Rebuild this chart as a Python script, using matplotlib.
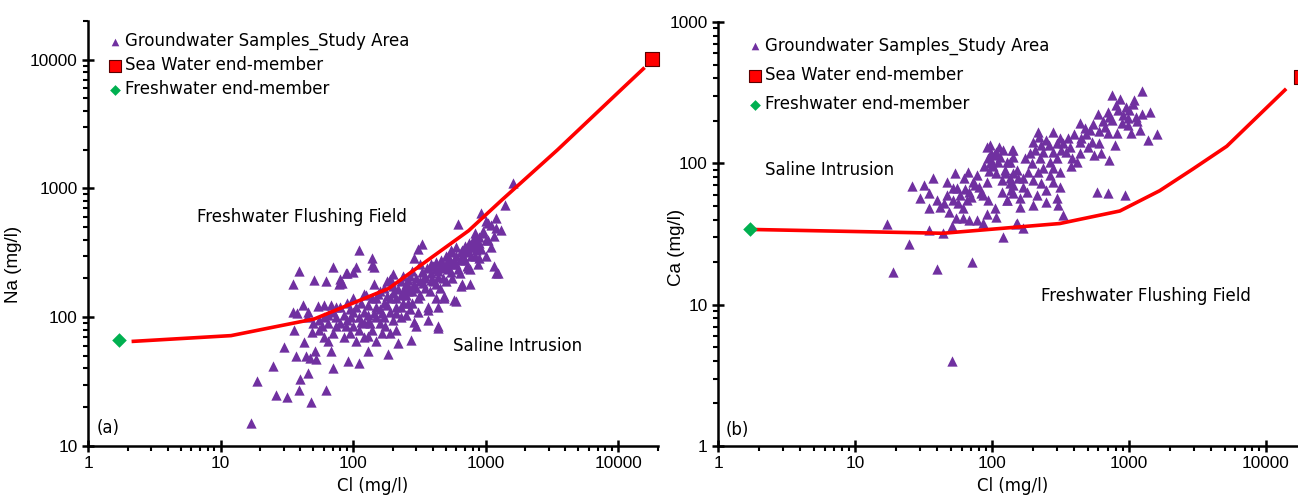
import matplotlib
matplotlib.use("Agg")
import matplotlib.pyplot as plt
from matplotlib.ticker import LogLocator, FixedLocator, FixedFormatter, NullFormatter

# ---- panel (a): Cl vs Na (mg/l) ----
samples_a = [
    (17, 15), (19, 32), (25, 42), (26, 25), (32, 24), (39, 27), (48, 22), (63, 27),
    (30, 59), (35, 110), (38, 108), (46, 110), (54, 122), (60, 125), (68, 125), (36, 80),
    (43, 64), (49, 77), (55, 80), (37, 50), (44, 50), (47, 48), (53, 47), (52, 55),
    (68, 55), (70, 40), (40, 33), (46, 37), (92, 46), (110, 44), (185, 52),
    (39, 230), (70, 245), (105, 245), (51, 195), (62, 190), (35, 180), (78, 180), (82, 185),
    (110, 330), (140, 290), (330, 370), (140, 255), (90, 220), (100, 225), (80, 198), (190, 198),
    (120, 152), (155, 152), (200, 155), (240, 160), (260, 175), (300, 200), (345, 200), (390, 220),
    (440, 230), (460, 250), (550, 225), (650, 175), (740, 240), (880, 260), (1150, 250), (1200, 220),
    (490, 140), (600, 133), (370, 113), (310, 110), (440, 82), (290, 92), (275, 66), (220, 63),
    (130, 55), (930, 650), (620, 530), (1200, 590), (1200, 490), (1150, 430), (1250, 220),
    (1050, 400), (900, 420), (810, 400), (930, 340), (830, 300), (740, 320), (660, 330),
    (600, 300), (550, 260), (720, 250), (760, 235), (620, 235), (520, 235), (460, 280),
    (310, 340), (290, 290), (390, 260), (420, 235), (440, 205), (390, 195), (330, 225),
    (340, 185), (420, 180), (660, 180), (760, 180), (490, 145), (580, 135), (440, 120),
    (370, 120), (310, 140), (290, 180), (260, 195), (240, 210), (195, 195), (145, 180),
    (145, 245), (88, 220), (80, 185), (260, 130), (230, 120), (210, 108), (165, 108),
    (145, 108), (130, 92), (115, 92), (97, 100), (88, 85), (300, 85), (370, 95), (440, 85),
    (165, 75), (130, 72), (1600, 1100), (1400, 740), (1300, 480), (1050, 540), (960, 470),
    (830, 450), (1000, 400), (850, 400),
    (55, 95), (60, 100), (65, 90), (70, 110), (75, 100), (80, 120), (85, 105), (90, 130),
    (95, 115), (100, 140), (105, 120), (110, 100), (115, 130), (120, 110), (125, 150),
    (130, 125), (135, 90), (140, 140), (150, 120), (160, 160), (170, 130), (180, 145),
    (190, 110), (200, 175), (210, 140), (220, 165), (230, 190), (250, 150), (270, 210),
    (280, 160), (60, 70), (65, 65), (75, 85), (85, 70), (95, 75), (100, 85), (105, 65),
    (110, 80), (120, 70), (140, 80), (150, 65), (160, 90), (175, 85), (190, 75), (200, 95),
    (210, 80), (230, 100), (250, 105), (270, 115), (280, 130), (320, 150), (350, 170),
    (380, 160), (400, 190), (420, 140), (450, 170), (480, 200), (500, 260), (520, 300),
    (550, 330), (580, 280), (600, 350), (640, 280), (680, 300), (700, 360), (750, 380),
    (780, 300), (800, 350), (850, 330), (900, 380), (950, 450), (1000, 560), (1100, 520),
    (1000, 300), (1100, 350), (900, 290), (500, 190), (560, 200), (640, 220),
    (150, 100), (160, 115), (170, 100), (180, 125), (190, 140), (210, 120), (230, 150),
    (240, 130), (260, 160), (300, 170), (320, 190), (350, 210), (360, 240), (400, 250),
    (420, 270), (480, 240), (500, 300), (530, 280), (560, 320), (600, 260), (650, 320),
    (700, 280), (720, 330), (780, 350), (820, 380), (870, 360), (120, 90), (130, 105),
    (100, 110), (90, 95), (80, 90), (70, 75), (75, 120), (65, 105), (58, 85), (50, 90),
    (45, 100), (42, 125), (150, 140), (170, 170), (250, 180), (280, 230), (320, 260),
    (200, 215), (180, 190),
]
mix_cl_a = [2.2, 12, 51, 185, 745, 1320, 3500, 11000, 15500]
mix_na_a = [65, 72, 97, 167, 470, 810, 2000, 6100, 8500]
sea_a = (18000, 10200)
fresh_a = (1.7, 66)

# ---- panel (b): Cl vs Ca (mg/l) ----
samples_b = [
    (17, 37), (25, 27), (19, 17), (40, 18), (71, 20), (35, 34), (44, 32), (120, 30),
    (152, 38), (26, 69), (32, 70), (37, 79), (30, 57), (35, 62), (40, 55), (35, 48),
    (42, 49), (47, 74), (54, 85), (52, 67), (56, 67), (47, 60), (52, 55), (57, 52),
    (49, 45), (55, 41), (61, 41), (68, 40), (78, 40), (86, 38), (51, 36), (61, 48),
    (66, 55), (68, 63), (73, 74), (67, 87), (63, 79), (78, 83), (81, 68), (92, 74),
    (86, 60), (93, 55), (105, 48), (108, 42), (92, 44), (118, 63), (128, 55), (139, 65),
    (97, 134), (108, 121), (120, 124), (142, 124), (93, 109), (100, 102), (110, 102),
    (135, 102), (124, 90), (152, 90), (135, 79), (142, 70), (108, 85), (118, 76),
    (1240, 325), (760, 305), (860, 285), (1070, 265), (960, 250), (830, 240), (1240, 225),
    (1420, 230), (1120, 212), (980, 210), (1600, 162), (1370, 147), (1200, 172),
    (1040, 165), (980, 187), (890, 193), (760, 203), (720, 212), (670, 181), (600, 223),
    (610, 168), (700, 165), (820, 165), (790, 134), (610, 139), (540, 142), (520, 172),
    (480, 178), (440, 193), (490, 160), (440, 142), (560, 114), (630, 118), (720, 106),
    (440, 118), (385, 109), (420, 102), (370, 130), (360, 150), (330, 139), (315, 150),
    (280, 167), (250, 147), (217, 167), (220, 153), (200, 142), (205, 124), (235, 120),
    (280, 120), (320, 124), (300, 109), (265, 102), (225, 109), (190, 118), (175, 109),
    (195, 100), (235, 93), (280, 93), (315, 87), (265, 83), (217, 87), (185, 87),
    (170, 79), (200, 76), (230, 73), (280, 74), (315, 68), (250, 65), (212, 60), (180, 63),
    (160, 57), (200, 51), (250, 53), (300, 57), (305, 51), (330, 43), (590, 63), (700, 62),
    (930, 60), (140, 124), (142, 111), (128, 102), (124, 85), (142, 85), (135, 73),
    (170, 68), (155, 79), (142, 62), (128, 55), (160, 49), (170, 35), (150, 37), (51, 4),
    (92, 130), (97, 100), (104, 115), (112, 130), (98, 118), (115, 110), (88, 95),
    (95, 88), (102, 95), (75, 70), (83, 62), (58, 60), (45, 52), (64, 66), (70, 58),
    (400, 160), (450, 150), (500, 130), (350, 120), (380, 95), (260, 135), (300, 140),
    (230, 135), (550, 190), (650, 200), (700, 230), (900, 220), (1000, 240), (1100, 280),
    (1150, 200), (800, 260),
]
mix_cl_b = [1.9, 44, 313, 860, 1680, 2930, 5190, 13800]
mix_ca_b = [34, 32, 37.5, 46, 64, 91, 132, 330]
sea_b = (18100, 410)
fresh_b = (1.7, 34.5)

purple = "#7030A0"
red = "#FF0000"
green = "#00B050"
text_font = "DejaVu Sans"
tick_font = "Liberation Sans"

fig = plt.figure(figsize=(12.98, 5.03), dpi=100)
ax_a = fig.add_axes([0.0678, 0.1133, 0.4391, 0.8450])
ax_b = fig.add_axes([0.5532, 0.1133, 0.4537, 0.8430])


def draw(ax, samples, mix_x, mix_y, sea, fresh, ylim, yticks, ylab):
    xs = [p[0] for p in samples]
    ys = [p[1] for p in samples]
    tri = ax.scatter(xs, ys, marker="^", s=55, color=purple, linewidths=0, zorder=3,
                     label="Groundwater Samples_Study Area")
    ax.plot(mix_x, mix_y, color=red, lw=2.6, zorder=4)
    sq = ax.scatter([sea[0]], [sea[1]], marker="s", s=110, color=red, edgecolors="#5a0000",
                    linewidths=0.8, zorder=5, label="Sea Water end-member", clip_on=False)
    dm = ax.scatter([fresh[0]], [fresh[1]], marker="D", s=55, color=green, linewidths=0,
                    zorder=5, label="Freshwater end-member")
    ax.set_xscale("log")
    ax.set_yscale("log")
    ax.set_xlim(1, 20000)
    ax.set_ylim(*ylim)
    for s in ("top", "right"):
        ax.spines[s].set_visible(False)
    for s in ("left", "bottom"):
        ax.spines[s].set_linewidth(1.8)
    xt = [1, 10, 100, 1000, 10000]
    ax.xaxis.set_major_locator(FixedLocator(xt))
    ax.xaxis.set_major_formatter(FixedFormatter([str(v) for v in xt]))
    ax.yaxis.set_major_locator(FixedLocator(yticks))
    ax.yaxis.set_major_formatter(FixedFormatter([str(v) for v in yticks]))
    ax.xaxis.set_minor_locator(LogLocator(base=10, subs=range(2, 10)))
    ax.yaxis.set_minor_locator(LogLocator(base=10, subs=range(2, 10)))
    ax.xaxis.set_minor_formatter(NullFormatter())
    ax.yaxis.set_minor_formatter(NullFormatter())
    ax.tick_params(which="major", direction="inout", length=9, width=1.8,
                   labelsize=12.4, pad=3)
    ax.tick_params(which="minor", direction="out", length=3.5, width=1.5)
    for lab in ax.get_xticklabels() + ax.get_yticklabels():
        lab.set_fontfamily(tick_font)
    ax.set_xlabel("Cl (mg/l)", fontsize=12, family=text_font, labelpad=4)
    ax.set_ylabel(ylab, fontsize=13.5, family=tick_font)
    return tri, sq, dm


h_a = draw(ax_a, samples_a, mix_cl_a, mix_na_a, sea_a, fresh_a, (10, 20000),
           [10, 100, 1000, 10000], "Na (mg/l)")
h_b = draw(ax_b, samples_b, mix_cl_b, mix_ca_b, sea_b, fresh_b, (1, 1000),
           [1, 10, 100, 1000], "Ca (mg/l)")

ax_a.yaxis.set_label_coords(-0.116, 0.428)
ax_b.yaxis.set_label_coords(-0.056, 0.469)

for ax, h, anchor, spacing in ((ax_a, h_a, (0.035, 0.974), 0.36),
                               (ax_b, h_b, (0.051, 0.965), 0.66)):
    leg = ax.legend(handles=list(h), loc="upper left", bbox_to_anchor=anchor,
                    frameon=False, borderpad=0, borderaxespad=0, handlelength=0.8,
                    handletextpad=0.2, labelspacing=spacing,
                    prop={"family": text_font, "size": 12})
    leg.legend_handles[0].set_sizes([30])
    leg.legend_handles[1].set_sizes([70])
    leg.legend_handles[2].set_sizes([30])

kw = dict(fontsize=12, family=text_font, va="center", ha="left")
ax_a.text(0.191, 0.539, "Freshwater Flushing Field", transform=ax_a.transAxes, **kw)
ax_a.text(0.640, 0.235, "Saline Intrusion", transform=ax_a.transAxes, **kw)
ax_a.text(0.016, 0.042, "(a)", transform=ax_a.transAxes, **kw)
ax_b.text(0.080, 0.651, "Saline Intrusion", transform=ax_b.transAxes, **kw)
ax_b.text(0.548, 0.354, "Freshwater Flushing Field", transform=ax_b.transAxes, **kw)
ax_b.text(0.0136, 0.038, "(b)", transform=ax_b.transAxes, **kw)

fig.savefig("out.png", dpi=100)
